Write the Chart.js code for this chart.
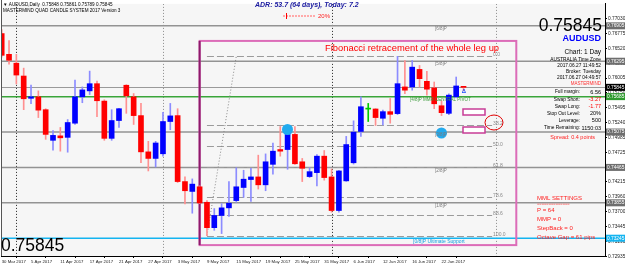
<!DOCTYPE html>
<html><head><meta charset="utf-8">
<script src="https://cdn.jsdelivr.net/npm/chart.js@4.4.0/dist/chart.umd.min.js"></script>
<style>html,body{margin:0;padding:0;background:#fff;overflow:hidden}#wrap{width:625px;height:267px;position:relative}</style>
</head><body><div id="wrap"><canvas id="c" width="625" height="267"></canvas></div>
<script>
// ---- data ----
const barDates = ['2017-03-30','2017-03-31','2017-04-03','2017-04-04','2017-04-05','2017-04-06','2017-04-07','2017-04-10','2017-04-11','2017-04-12',
'2017-04-13','2017-04-14','2017-04-17','2017-04-18','2017-04-19','2017-04-20','2017-04-21','2017-04-24','2017-04-25','2017-04-26',
'2017-04-27','2017-04-28','2017-05-01','2017-05-02','2017-05-03','2017-05-04','2017-05-05','2017-05-08','2017-05-09','2017-05-10',
'2017-05-11','2017-05-12','2017-05-15','2017-05-16','2017-05-17','2017-05-18','2017-05-19','2017-05-22','2017-05-23','2017-05-24',
'2017-05-25','2017-05-26','2017-05-29','2017-05-30','2017-05-31','2017-06-01','2017-06-02','2017-06-05','2017-06-06','2017-06-07',
'2017-06-08','2017-06-09','2017-06-12','2017-06-13','2017-06-14','2017-06-15','2017-06-16','2017-06-19','2017-06-20','2017-06-21',
'2017-06-22','2017-06-23','2017-06-26','2017-06-27'];
const opens = [0.76772,0.76414,0.76261,0.76040,0.75656,0.75682,0.75460,0.74932,0.75009,0.74983,
0.75227,0.75682,0.75784,0.75908,0.75608,0.74966,0.75273,0.75881,0.75682,0.75358,
0.74733,0.74620,0.74700,0.75256,0.75358,0.74221,0.74051,0.74131,0.73864,0.73427,
0.73637,0.73768,0.73893,0.74119,0.74256,0.74301,0.74165,0.74518,0.74773,0.74773,
0.75034,0.74562,0.74307,0.74375,0.74659,0.74301,0.73722,0.74233,0.74545,0.75085,
0.75470,0.75472,0.75312,0.75426,0.75392,0.75852,0.75852,0.76154,0.75949,0.75835,
0.75528,0.75397,0.75682,0.75848];
const highs = [0.76840,0.76653,0.76414,0.76176,0.75886,0.75784,0.75477,0.75102,0.75154,0.75290,
0.75971,0.75852,0.76125,0.75954,0.75631,0.75460,0.75482,0.75891,0.75738,0.75568,
0.74915,0.74915,0.75414,0.75568,0.75477,0.74301,0.74267,0.74148,0.73893,0.73756,
0.73841,0.74221,0.74460,0.74416,0.74450,0.74676,0.74698,0.74886,0.75170,0.75170,
0.75170,0.74620,0.74460,0.74688,0.74756,0.74438,0.74416,0.75000,0.75268,0.75682,
0.75568,0.75477,0.75455,0.75653,0.76380,0.76307,0.76307,0.76222,0.76120,0.75937,
0.75614,0.75733,0.76023,0.75861];
const lows = [0.76363,0.76244,0.75903,0.75460,0.75562,0.75324,0.74949,0.74762,0.74745,0.74727,
0.75205,0.75580,0.75721,0.75341,0.74932,0.74932,0.75154,0.75397,0.75205,0.74545,
0.74404,0.74472,0.74659,0.75114,0.74204,0.73836,0.73676,0.73841,0.73290,0.73381,
0.73325,0.73620,0.73864,0.73949,0.73881,0.74092,0.74063,0.74347,0.74659,0.74433,
0.74518,0.74221,0.74290,0.74148,0.74245,0.73693,0.73693,0.74225,0.74523,0.75000,
0.75256,0.75188,0.75199,0.75227,0.75375,0.75738,0.75796,0.75852,0.75711,0.75477,
0.75358,0.75375,0.75665,0.75789];
const closes = [0.76397,0.76312,0.76057,0.75648,0.75682,0.75452,0.75034,0.75017,0.74975,0.75239,
0.75682,0.75801,0.75908,0.75614,0.74966,0.75273,0.75477,0.75699,0.75358,0.74733,
0.74620,0.74886,0.75256,0.75353,0.74221,0.74063,0.74177,0.73853,0.73427,0.73637,
0.73768,0.73847,0.74131,0.74262,0.74301,0.74165,0.74562,0.74745,0.74745,0.75034,
0.74528,0.74450,0.74392,0.74659,0.74290,0.73722,0.74404,0.74859,0.75073,0.75511,
0.75470,0.75324,0.75426,0.75380,0.75908,0.75796,0.76193,0.75994,0.75813,0.75562,
0.75409,0.75711,0.75869,0.75845];
const timeLabels = ['30 Mar 2017','5 Apr 2017','11 Apr 2017','17 Apr 2017','21 Apr 2017','27 Apr 2017','3 May 2017','9 May 2017',
'15 May 2017','19 May 2017','25 May 2017','31 May 2017','6 Jun 2017','12 Jun 2017','16 Jun 2017','22 Jun 2017'];
const priceTicks = [0.77030,0.76775,0.76520,0.76260,0.76005,0.75750,0.75495,0.75240,0.74985,0.74725,0.74470,0.74215,0.73960,0.73700,0.73445,0.73190,0.72935];
const mmlLevels = [0.76905,0.76295,0.75685,0.75075,0.74465,0.73855,0.73245];
const mmlNames  = ['[6/8]P','[5/8]P','[4/8]P MMR CENTRAL PIVOT','[3/8]P','[2/8]P','[1/8]P','[0/8]P Ultimate Support'];
const fibHigh = 0.76380, fibLow = 0.73290;
const fibRatios = [0, 38.2, 50.0, 61.8, 78.6, 88.6, 100.0];
const bidPrice = 0.75845;
const separators = [1.95, 22, 45, 67.4];

// ---- chart ----
const up='#0000ff', dn='#ff0000', eq='#00c800';
const bodyColors = opens.map((o,i)=> closes[i]>o?up:(closes[i]<o?dn:eq));
const wickColors = opens.map((o,i)=> closes[i]>o?'#8c8cff':(closes[i]<o?'#ff9090':eq));
const FF = '"Liberation Sans", Arial, "DejaVu Sans", sans-serif';

function txt(ctx,s,x,y,font,color,align){ctx.font=font+' '+FF;ctx.fillStyle=color;ctx.textAlign=align||'left';ctx.textBaseline='middle';ctx.fillText(s,x,y);}
function hline(ctx,a,y,color,w,dash){ctx.beginPath();ctx.setLineDash(dash||[]);ctx.strokeStyle=color;ctx.lineWidth=w;ctx.moveTo(a.left,y);ctx.lineTo(a.right,y);ctx.stroke();ctx.setLineDash([]);}

const overlay = {
  id:'overlay',
  beforeDraw(chart){
    const {ctx,chartArea:a}=chart;
    ctx.save();ctx.fillStyle='#ffffff';ctx.fillRect(0,0,chart.width,chart.height);
    ctx.fillStyle='#f6f6f6';ctx.fillRect(a.left,a.top,a.right-a.left,a.bottom-a.top);ctx.restore();
  },
  beforeDatasetsDraw(chart){
    const {ctx,chartArea:a,scales:{x,y}}=chart;
    ctx.save();
    ctx.beginPath();ctx.rect(a.left,a.top,a.right-a.left,a.bottom-a.top);ctx.clip();
    separators.forEach((s,k)=>{const px=Math.round(x.getPixelForValue(s))+0.5;ctx.beginPath();ctx.setLineDash([1,2]);ctx.strokeStyle=(k%2)?'#8a8a8a':'#222';ctx.lineWidth=1;ctx.moveTo(px,a.top);ctx.lineTo(px,a.bottom);ctx.stroke();});
    ctx.setLineDash([]);
    mmlLevels.forEach((p,k)=>{const py=y.getPixelForValue(p);let c='#939393';if(k===2)c='#3aa53a';if(k===6)c='#14b4f0';hline(ctx,a,py,c,1.5);});
    hline(ctx,a,Math.round(y.getPixelForValue(bidPrice))+0.5,'#9a9a9a',1);
    const rx0=x.getPixelForValue(27),rx1=x.getPixelForValue(70.2),ry0=y.getPixelForValue(0.76645),ry1=y.getPixelForValue(0.73126);
    ctx.strokeStyle='#dc6cb8';ctx.lineWidth=2;ctx.strokeRect(rx0,ry0,rx1-rx0,ry1-ry0);
    ctx.beginPath();ctx.strokeStyle='#8e1a6c';ctx.moveTo(rx0,ry0);ctx.lineTo(rx0,ry1);ctx.stroke();
    const fx0=x.getPixelForValue(28),fx1=x.getPixelForValue(66.9);
    fibRatios.forEach(r=>{const p=fibHigh-(fibHigh-fibLow)*r/100;const py=Math.round(y.getPixelForValue(p))+0.5;
      ctx.beginPath();ctx.setLineDash([7,3]);ctx.strokeStyle='#9b9b9b';ctx.lineWidth=1;ctx.moveTo(fx0,py);ctx.lineTo(fx1,py);ctx.stroke();ctx.setLineDash([]);
      txt(ctx,r.toFixed(1),fx1+1,py-2,'5px','#8a8a8a','left');});
    ctx.beginPath();ctx.setLineDash([1,2]);ctx.strokeStyle='#8a8a8a';ctx.lineWidth=1;
    ctx.moveTo(x.getPixelForValue(28),y.getPixelForValue(fibLow));ctx.lineTo(x.getPixelForValue(32),y.getPixelForValue(fibHigh));ctx.stroke();ctx.setLineDash([]);
    ctx.restore();
  },
  afterDatasetsDraw(chart){
    const {ctx,chartArea:a,scales:{x,y}}=chart;
    ctx.save();
    ctx.beginPath();ctx.strokeStyle='#555';ctx.lineWidth=1;ctx.moveTo(1.5,0);ctx.lineTo(1.5,a.bottom);ctx.stroke();
    ctx.strokeStyle='#c83c96';ctx.lineWidth=1.5;ctx.fillStyle='#ffffff';
    [[463,109],[463,127]].forEach(([bx,by])=>{ctx.fillRect(bx,by,22,6);ctx.strokeRect(bx,by,22,6);});
    ctx.beginPath();ctx.strokeStyle='#e00000';ctx.lineWidth=1;ctx.ellipse(494,122.5,9,7.5,0,0,Math.PI*2);ctx.stroke();
    [[287.5,129.5],[441.5,133]].forEach(([cx,cy])=>{ctx.beginPath();ctx.fillStyle='#22aaee';ctx.arc(cx,cy,5.5,0,Math.PI*2);ctx.fill();});
    mmlLevels.forEach((p,k)=>{const py=y.getPixelForValue(p);
      if(k===2) txt(ctx,mmlNames[k],410,py+3,'4.5px','#3a9a3a','left');
      else if(k===6) txt(ctx,mmlNames[k],413,py+3,'5px','#14a0e0','left');
      else txt(ctx,mmlNames[k],435,py+3,'4.5px','#7a7a7a','left');});
    txt(ctx,'\u0394',464,91,'bold 6px','#2050ff','center');
    txt(ctx,'Fibonacci retracement of the whole leg up',325,48,'9.4px','#ff0000','left');
    txt(ctx,'\u25BC AUDUSD,Daily  0.75848 0.75861 0.75789 0.75845',3,5,'4.6px','#000','left');
    txt(ctx,'MASTERMIND QUAD CANDLE SYSTEM 2017 Version 3',3,11,'4.6px','#000','left');
    txt(ctx,'ADR: 53.7 (64 days), Today: 7.2',255,5.5,'italic bold 7px','#1a1aa0','left');
    ctx.beginPath();ctx.setLineDash([2,1]);ctx.strokeStyle='#ffaaaa';ctx.lineWidth=2;ctx.moveTo(283,16);ctx.lineTo(316,16);ctx.stroke();ctx.setLineDash([]);
    ctx.beginPath();ctx.strokeStyle='#ff0000';ctx.lineWidth=1;ctx.moveTo(286.5,13);ctx.lineTo(286.5,19);ctx.stroke();
    txt(ctx,'20%',318,16,'6px','#ff2020','left');
    txt(ctx,'0.75845',602,26,'17.5px','#000','right');
    txt(ctx,'AUDUSD',601,39,'bold 9px','#0000ff','right');
    txt(ctx,'Chart: 1 Day',601,52,'6.5px','#000','right');
    txt(ctx,'AUSTRALIA Time Zone',601,60,'4.8px','#000','right');
    txt(ctx,'2017.06.27 11:49:52',601,66,'4.8px','#000','right');
    txt(ctx,'Broker: Tuesday',601,72,'4.8px','#000','right');
    txt(ctx,'2017.06.27 04:49:57',601,78,'4.8px','#000','right');
    txt(ctx,'MASTERMIND',601,83.5,'4.5px','#ff3030','right');
    const rows=[['Full margin:','6.56','#000'],['Swap Short:','-3.27','#ff0000'],['Swap Long:','-1.77','#ff0000'],['Stop Out Level:','20%','#000'],['Leverage:','500','#000'],['Time Remaining:','1150:03','#000']];
    rows.forEach((r,k)=>{const yy=92+k*7.2;txt(ctx,r[0],580,yy,'4.8px','#000','right');txt(ctx,r[1],601,yy,'5.5px',r[2],'right');});
    txt(ctx,'Spread: 0.4 points',595,137,'5.5px','#ff2020','right');
    txt(ctx,'MML SETTINGS',537,198.5,'6px','#ff2020','left');
    txt(ctx,'==============',537,204,'4px','#ff6060','left');
    txt(ctx,'P = 64',537,210,'6px','#ff2020','left');
    txt(ctx,'MMP = 0',537,219,'6px','#ff2020','left');
    txt(ctx,'StepBack = 0',537,228,'6px','#ff2020','left');
    txt(ctx,'Octave Gap = 61 pips',537,237.5,'6px','#ff2020','left');
    txt(ctx,'0.75845',1,246,'17.5px','#000','left');
    const box=(p,bg,fg)=>{const py=y.getPixelForValue(p);ctx.fillStyle=bg;ctx.fillRect(606,py-3.5,19,7);txt(ctx,p.toFixed(5),607,py,'4.8px',fg,'left');};
    mmlLevels.forEach((p,k)=>{if(k===2)box(p,'#2e9a2e','#fff');else if(k===6)box(p,'#14b4f0','#fff');else box(p,'#6e6e6e','#fff');});
    box(bidPrice,'#000','#fff');
    ctx.restore();
  }
};

new Chart(document.getElementById('c'),{
  type:'bar',
  data:{datasets:[
    {label:'wick',data:lows.map((l,i)=>({x:i,y:[l,highs[i]]})),backgroundColor:wickColors,barThickness:1,grouped:false,order:2},
    {label:'body',data:opens.map((o,i)=>({x:i,y:[o,closes[i]]})),backgroundColor:bodyColors,barThickness:5,minBarLength:1,grouped:false,order:1}
  ]},
  options:{
    responsive:false,animation:false,events:[],
    layout:{padding:{left:1,top:1,right:0,bottom:0}},
    plugins:{legend:{display:false},tooltip:{enabled:false}},
    scales:{
      x:{type:'linear',min:-0.095,max:82.3,offset:false,
        afterBuildTicks:s=>{s.ticks=timeLabels.map((_,k)=>({value:k*4}));},
        afterFit:s=>{s.height=11;},
        ticks:{autoSkip:false,maxRotation:0,minRotation:0,align:'start',padding:1,font:{size:4.3,family:'Liberation Sans'},color:'#222',callback:(v,i)=>timeLabels[i]},
        grid:{drawOnChartArea:false,tickLength:2,color:'#000'},border:{display:true,color:'#000',width:1}},
      y:{position:'right',min:0.729383,max:0.772835,
        afterBuildTicks:s=>{s.ticks=priceTicks.map(v=>({value:v}));},
        afterFit:s=>{s.width=20;},
        ticks:{padding:1,font:{size:4.8,family:'Liberation Sans'},color:'#222',callback:v=>v.toFixed(5)},
        grid:{drawOnChartArea:false,tickLength:2,color:'#000'},border:{display:true,color:'#000',width:1}}
    }
  },
  plugins:[overlay]
});
</script></body></html>
